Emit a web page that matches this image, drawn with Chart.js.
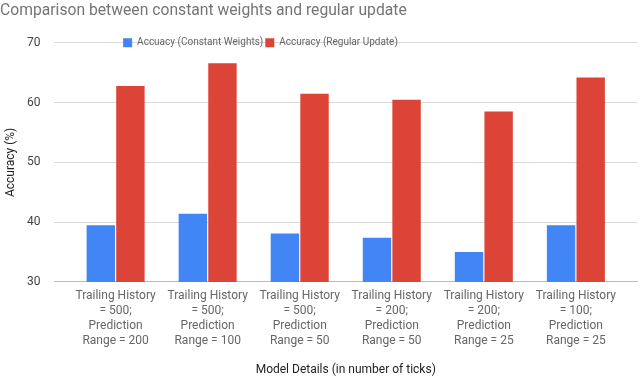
<!DOCTYPE html>
<html>
<head>
<meta charset="utf-8">
<script src="https://cdn.jsdelivr.net/npm/chart.js@4.4.0/dist/chart.umd.min.js"></script>
<style>
  html, body { margin: 0; padding: 0; background: #fff; }
  #wrap { width: 640px; height: 376px; }
</style>
</head>
<body>
<div id="wrap"><canvas id="accChart" width="640" height="376"></canvas></div>
<script>
// Chart data
const categories = [
    ['Trailing History', '= 500;', 'Prediction', 'Range = 200'],
    ['Trailing History', '= 500;', 'Prediction', 'Range = 100'],
    ['Trailing History', '= 500;', 'Prediction', 'Range = 50'],
    ['Trailing History', '= 200;', 'Prediction', 'Range = 50'],
    ['Trailing History', '= 200;', 'Prediction', 'Range = 25'],
    ['Trailing History', '= 100;', 'Prediction', 'Range = 25']
];
const constantWeights = [39.5, 41.4, 38.1, 37.4, 35.0, 39.5];
const regularUpdate = [62.8, 66.6, 61.5, 60.5, 58.5, 64.2];
const yTicks = [30, 40, 50, 60, 70];

Chart.defaults.font.family = 'Roboto, "Noto Sans", sans-serif';
Chart.defaults.font.size = 12;
Chart.defaults.color = '#444';

// move the legend onto the top gridline, a bit left of centre
const legendShift = {
    id: 'legendShift',
    afterLayout(chart) {
        const lg = chart.legend;
        if (lg) {
            lg.top += 15;
            lg.bottom += 15;
            lg.left -= 58;
            lg.right -= 58;
        }
    }
};

const inset = 0.164; // extra room at both ends of the x axis, in categories

const ctx = document.getElementById('accChart').getContext('2d');
const accChart = new Chart(ctx, {
    type: 'bar',
    data: {
        labels: categories,
        datasets: [
            {
                label: 'Accuacy (Constant Weights)',
                data: constantWeights,
                backgroundColor: '#4285F4',
                barPercentage: 0.96,
                categoryPercentage: 0.643
            },
            {
                label: 'Accuracy (Regular Update)',
                data: regularUpdate,
                backgroundColor: '#DB4437',
                barPercentage: 0.96,
                categoryPercentage: 0.643
            }
        ]
    },
    options: {
        responsive: false,
        animation: false,
        layout: { padding: { left: 0, right: 3, top: 0, bottom: 0 } },
        plugins: {
            title: {
                display: true,
                text: 'Comparison between constant weights and regular update',
                align: 'start',
                color: '#757575',
                font: { size: 15.7, weight: 'normal' },
                padding: { top: 2, bottom: 0 }
            },
            legend: {
                position: 'top',
                align: 'center',
                labels: {
                    boxWidth: 9,
                    boxHeight: 9,
                    color: '#666',
                    padding: 2,
                    font: { size: 10 }
                }
            },
            tooltip: { enabled: false }
        },
        scales: {
            x: {
                // inset the groups from the ends of the gridlines
                afterBuildTicks(axis) {
                    axis._startValue = -0.5 - inset;
                    axis._valueRange = categories.length + 2 * inset;
                },
                grid: { display: false, drawTicks: false },
                border: { color: '#bbb', width: 1 },
                ticks: { color: '#666', maxRotation: 0, padding: 7, font: { size: 12, lineHeight: 1.23 } },
                title: {
                    display: true,
                    text: 'Model Details (in number of ticks)',
                    color: '#222',
                    font: { size: 12, lineHeight: 1 },
                    padding: { top: 9, bottom: 0 }
                }
            },
            y: {
                min: 30,
                max: 70,
                afterBuildTicks(axis) {
                    axis.ticks = yTicks.map(v => ({ value: v }));
                },
                grid: { color: '#d9d9d9', drawTicks: false },
                border: { display: false },
                ticks: { color: '#444', padding: 14, font: { size: 12 } },
                title: {
                    display: true,
                    text: 'Accuracy (%)',
                    color: '#222',
                    font: { size: 12, lineHeight: 1 },
                    padding: { top: 5, bottom: -4 }
                }
            }
        }
    },
    plugins: [legendShift]
});
</script>
</body>
</html>
